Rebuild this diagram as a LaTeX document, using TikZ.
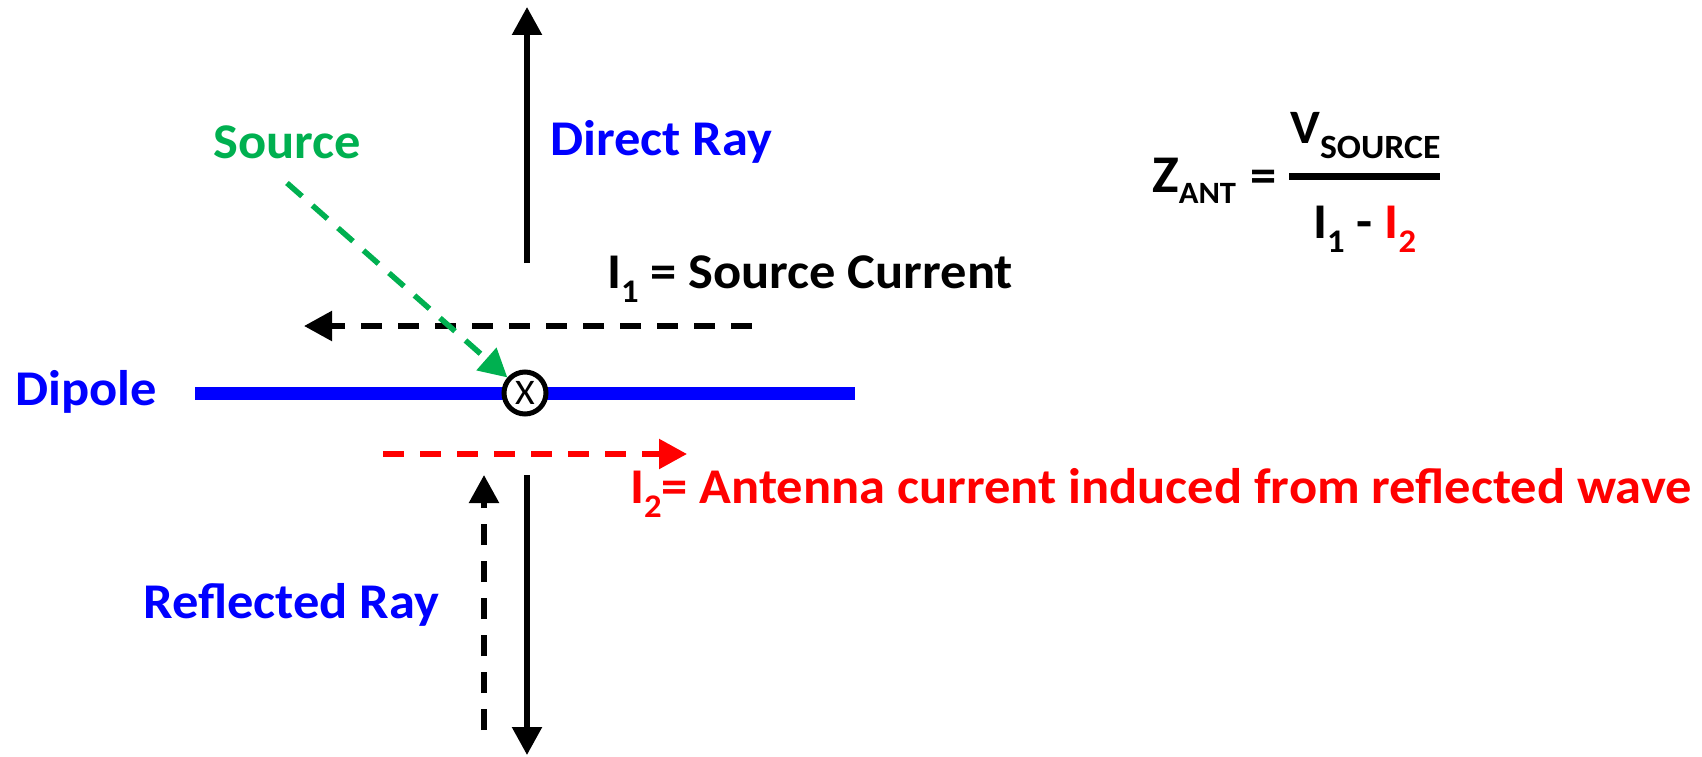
\documentclass[tikz,border=0pt]{standalone}
\usepackage{fontspec}
\setmainfont{Carlito}[FakeStretch=1.05]
\usetikzlibrary{arrows.meta}
\definecolor{ablue}{RGB}{0,0,255}
\definecolor{agreen}{RGB}{0,176,80}
\definecolor{ared}{RGB}{255,0,0}
\newcommand\lsub[1]{\raisebox{-14pt}{\fontsize{33}{33}\selectfont #1}}
\begin{document}
\begin{tikzpicture}[x=1pt,y=-1pt,
  lbl/.style={inner sep=0pt, anchor=base west, font=\fontsize{50}{60}\selectfont\bfseries},
  tipA/.style={-{Triangle[width=29pt,length=28pt]}},
  ray/.style={line width=5.5pt, tipA},
  dsh/.style={dash pattern=on 21pt off 16pt},
]
\useasboundingbox (0,0) rectangle (1702,757);

% coordinates
\coordinate (dtop) at (527,7);
\coordinate (dbot) at (527,263);
\coordinate (rtop) at (527,475);
\coordinate (rbot) at (527,755);
\coordinate (uptop) at (484,475);
\coordinate (upbot) at (484,730);
\coordinate (ione) at (752,326);
\coordinate (ioneend) at (304,326);
\coordinate (itwo) at (383,454);
\coordinate (itwoend) at (687,454);
\coordinate (dl) at (195,393);
\coordinate (dr) at (855,393);
\coordinate (src) at (287,183);

% dipole
\draw[ablue, line width=13pt] (dl) -- (dr);
\node[circle, draw=black, line width=5pt, fill=white, minimum size=42pt, inner sep=0pt,
      font=\fontsize{36}{36}\selectfont] (x) at (525,393) {X};

% rays
\draw[ray] (dbot) -- (dtop);
\draw[ray] (rtop) -- (rbot);
\draw[ray, dsh] (upbot) -- (uptop);
\draw[ray, dsh] (ione) -- (ioneend);
\draw[ray, dsh, ared] (itwo) -- (itwoend);
\draw[ray, agreen, dash pattern=on 20pt off 14pt] (src) -- (x);

% labels
\node[lbl, agreen] (source) at (213,158) {Source};
\node[lbl, ablue] (direct) at (550,155) {Direct Ray};
\node[lbl] (ionelbl) at (607,288) {I\lsub{1} = Source Current};
\node[lbl, ablue] (dipole) at (15,405) {Dipole};
\node[lbl, ared] (itwolbl) at (630,503) {I\lsub{2}= Antenna current induced from reflected wave};
\node[lbl, ablue] (refl) at (143,618) {Reflected Ray};

% formula
\node[inner sep=0pt, anchor=base west, font=\fontsize{53}{60}\selectfont\bfseries] (zant) at (1152,192)
  {Z\raisebox{-11pt}{\fontsize{31}{31}\selectfont ANT}};
\node[inner sep=0pt, anchor=base west, font=\fontsize{50}{60}\selectfont\bfseries] (eq) at (1250,192) {=};
\node[inner sep=0pt, anchor=base west, font=\fontsize{48}{60}\selectfont\bfseries] (num) at (1290,143)
  {V\raisebox{-15pt}{\fontsize{34}{34}\selectfont SOURCE}};
\coordinate (fl) at (1289,176);
\coordinate (fr) at (1440,176);
\draw[line width=7pt] (fl) -- (fr);
\node[inner sep=0pt, anchor=base west, font=\fontsize{50}{60}\selectfont\bfseries] (den) at (1313,238)
  {I\lsub{1} - {\color{ared}I\lsub{2}}};
\end{tikzpicture}
\end{document}
